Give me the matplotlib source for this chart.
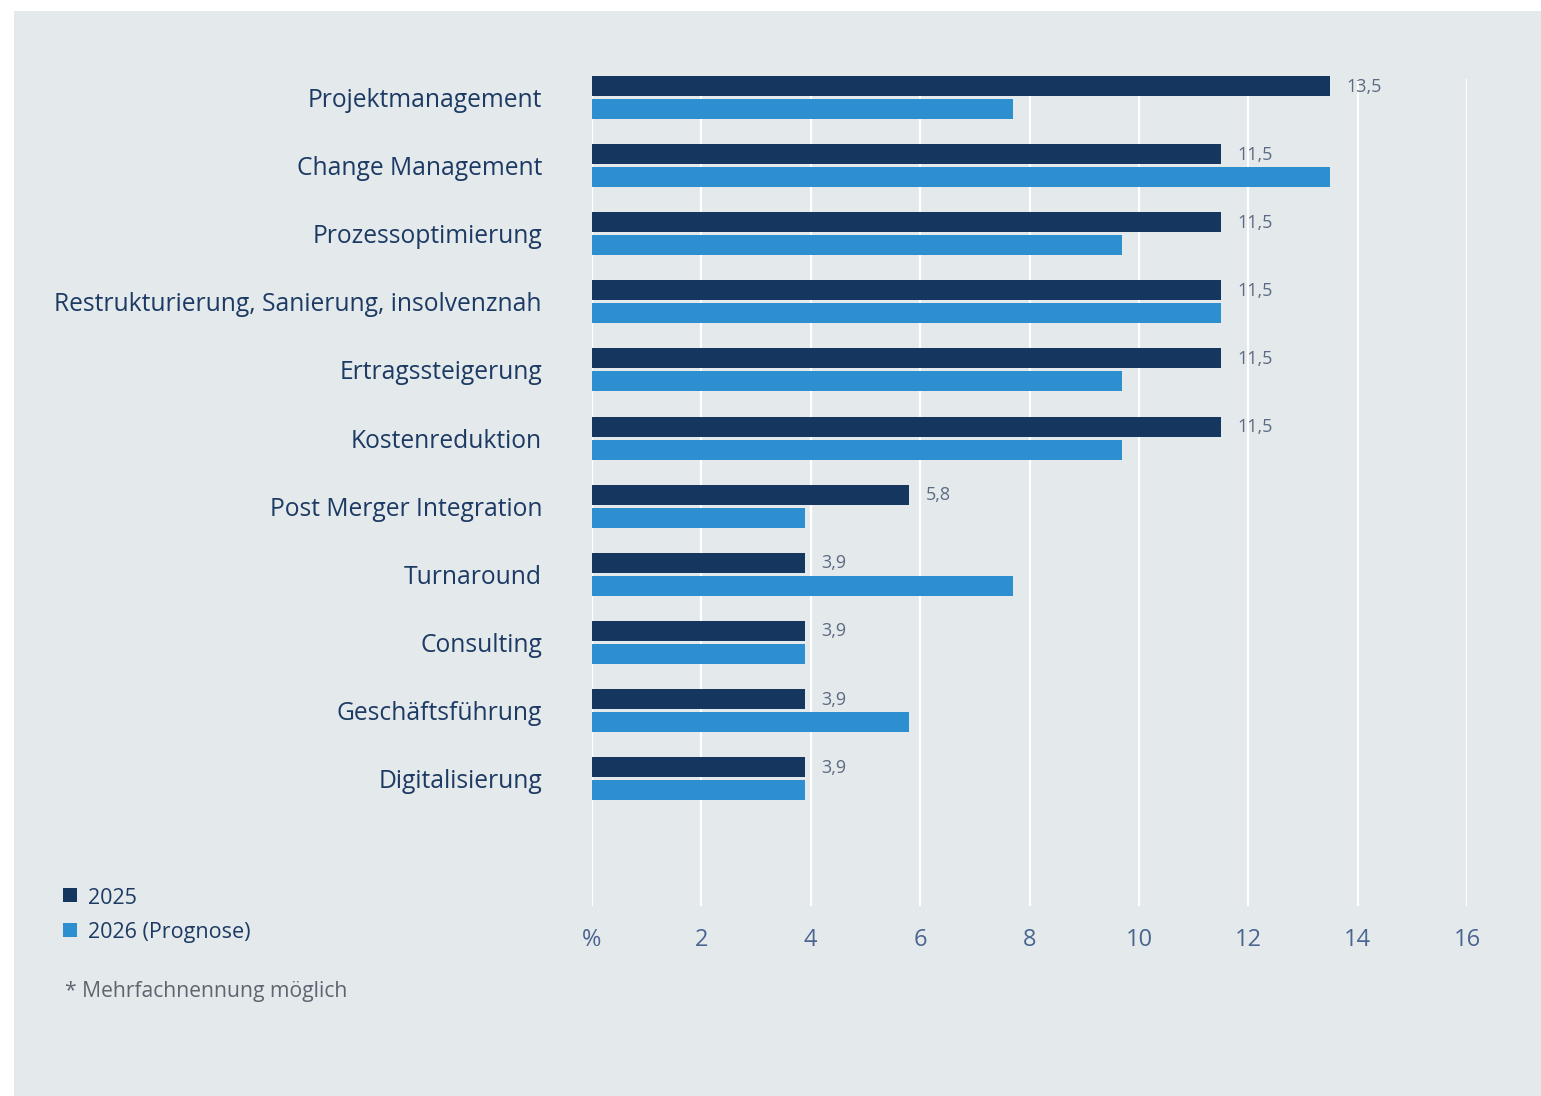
import matplotlib
matplotlib.use("Agg")
import matplotlib.pyplot as plt
from matplotlib.patches import Rectangle
import numpy as np

plt.rcParams['font.family'] = ['Open Sans', 'DejaVu Sans']

categories = ["Projektmanagement", "Change Management", "Prozessoptimierung",
              "Restrukturierung, Sanierung, insolvenznah", "Ertragssteigerung",
              "Kostenreduktion", "Post Merger Integration", "Turnaround",
              "Consulting", "Geschäftsführung", "Digitalisierung"]
v2025 = [13.5, 11.5, 11.5, 11.5, 11.5, 11.5, 5.8, 3.9, 3.9, 3.9, 3.9]
v2026 = [7.7, 13.5, 9.7, 11.5, 9.7, 9.7, 3.9, 7.7, 3.9, 5.8, 3.9]
xticks = [0, 2, 4, 6, 8, 10, 12, 14, 16]
xticklabels = ["%", "2", "4", "6", "8", "10", "12", "14", "16"]
legend_labels = ["2025", "2026 (Prognose)"]

dark = "#14365f"
light = "#2d8fcf"
bg = "#e4e9ec"

W, H = 1541, 1096
fig = plt.figure(figsize=(W / 100, H / 100), dpi=100)
fig.patch.set_facecolor("white")
fig.patches.append(Rectangle((14 / W, 0), 1 - 14 / W, 1 - 11 / H,
                             transform=fig.transFigure, facecolor=bg,
                             edgecolor="none", zorder=-10))

ax_top, ax_bot = 70, 906
ax = fig.add_axes([592 / W, 1 - ax_bot / H, (1467 - 592) / W, (ax_bot - ax_top) / H])
ax.set_facecolor("none")
ax.set_zorder(2)

spacing = 68.1
y = np.arange(len(categories))
bh = 20 / spacing
off = 11.5 / spacing
ax.barh(y - off, v2025, height=bh, color=dark, zorder=3)
ax.barh(y + off, v2026, height=bh, color=light, zorder=3)

# value labels only for 2025
for yi, v in zip(y, v2025):
    ax.text(v + 0.3, yi - off + 0.01, f"{v:.1f}".replace(".", ","), va="center",
            ha="left", fontsize=13, color="#5b6b82", zorder=4)

ax.set_xlim(0, 16)
ax.set_ylim((ax_bot - 97.5) / spacing, (ax_top - 97.5) / spacing)

for xt in xticks:
    ax.axvline(xt, ymin=0, ymax=1 - 10 / (ax_bot - ax_top), color="white", lw=1.6, zorder=1)

ax.set_xticks(xticks)
ax.set_xticklabels(xticklabels, fontsize=17, color="#4a6590")
ax.tick_params(axis="x", length=0, pad=16)
ax.set_yticks(y)
ax.set_yticklabels(categories, fontsize=17.7, color="#1c3a63")
ax.tick_params(axis="y", length=0, pad=36)
for s in ax.spines.values():
    s.set_visible(False)

# legend
for i, (lab, col) in enumerate(zip(legend_labels, [dark, light])):
    yc = 895 + i * 34.5
    fig.patches.append(Rectangle((63 / W, 1 - (yc + 7) / H), 14 / W, 14 / H,
                                 transform=fig.transFigure, facecolor=col,
                                 edgecolor="none"))
    fig.text(88 / W, 1 - (yc + 3) / H, lab, fontsize=15.5, color="#1c3a63", va="center", ha="left")

fig.text(65 / W, 1 - 991 / H, "* Mehrfachnennung möglich", fontsize=15.2,
         color="#5d6670", va="center", ha="left")

fig.savefig("out.png", dpi=100, facecolor=fig.get_facecolor())
